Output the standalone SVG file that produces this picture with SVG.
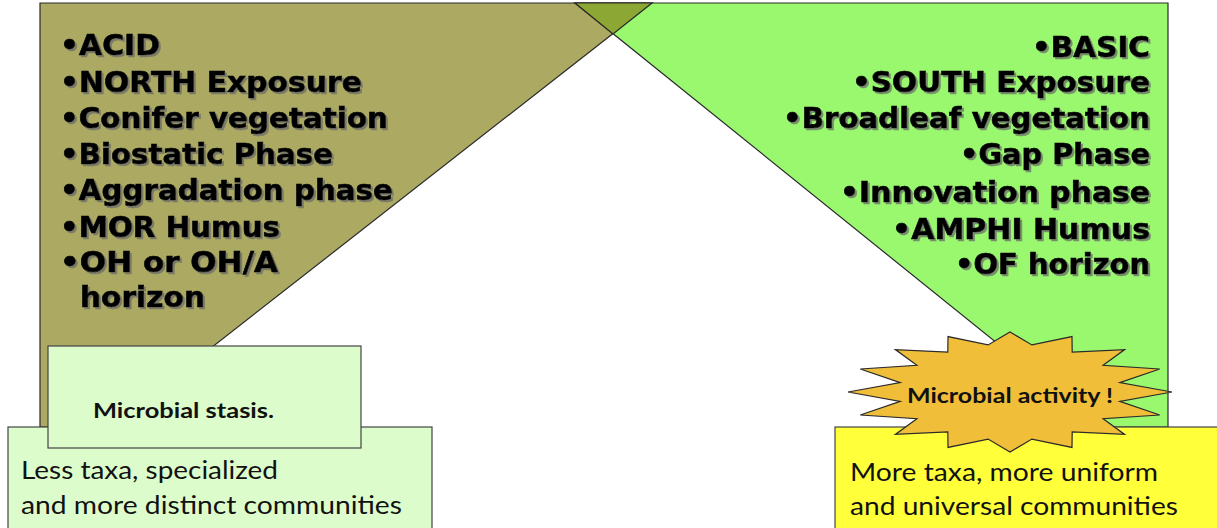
<svg xmlns="http://www.w3.org/2000/svg" width="1217" height="528" viewBox="0 0 1217 528">
<defs>
<filter id="sh" x="-5%" y="-20%" width="110%" height="150%">
<feDropShadow dx="2" dy="2" stdDeviation="0.6" flood-color="#6a6a6a" flood-opacity="0.75"/>
</filter>
<style>
.lst{font-family:"DejaVu Sans",Verdana,sans-serif;font-weight:bold;font-size:28px;fill:#000;stroke:#000;stroke-width:0.6;filter:url(#sh)}
.reg{font-family:Lato,"Liberation Sans",sans-serif;font-size:25px;fill:#111}
.bl{font-family:Lato,"Liberation Sans",sans-serif;font-weight:bold;font-size:21px;fill:#111}
.edge{stroke:#2a2a2a;stroke-width:1.2}
.box{stroke:#444;stroke-width:1.2}
</style>
</defs>
<rect width="1217" height="528" fill="#fff"/>

<g id="acid-panel">
<polygon class="edge" points="40,3 652,3 110,427 40,427" fill="#ABA962"/>
</g>
<g id="basic-panel">
<polygon class="edge" points="575,3 1168,3 1168,427 1101,427" fill="#99F86E"/>
</g>
<g id="overlap">
<polygon class="edge" points="575,3 652,3 613,34" fill="#8CA733"/>
</g>

<g id="acid-list">
<text class="lst" x="60" y="55" textLength="100" lengthAdjust="spacingAndGlyphs">•ACID</text>
<text class="lst" x="60" y="92" textLength="302" lengthAdjust="spacingAndGlyphs">•NORTH Exposure</text>
<text class="lst" x="60" y="128" textLength="328" lengthAdjust="spacingAndGlyphs">•Conifer vegetation</text>
<text class="lst" x="60" y="164" textLength="273" lengthAdjust="spacingAndGlyphs">•Biostatic Phase</text>
<text class="lst" x="60" y="200" textLength="333" lengthAdjust="spacingAndGlyphs">•Aggradation phase</text>
<text class="lst" x="60" y="237" textLength="220" lengthAdjust="spacingAndGlyphs">•MOR Humus</text>
<text class="lst" x="60" y="272" textLength="218" lengthAdjust="spacingAndGlyphs">•OH or OH/A</text>
<text class="lst" x="80" y="307" textLength="125" lengthAdjust="spacingAndGlyphs">horizon</text>
</g>

<g id="basic-list">
<text class="lst" x="1032" y="57" textLength="118" lengthAdjust="spacingAndGlyphs">•BASIC</text>
<text class="lst" x="852" y="92" textLength="298" lengthAdjust="spacingAndGlyphs">•SOUTH Exposure</text>
<text class="lst" x="783" y="128" textLength="367" lengthAdjust="spacingAndGlyphs">•Broadleaf vegetation</text>
<text class="lst" x="960" y="164" textLength="190" lengthAdjust="spacingAndGlyphs">•Gap Phase</text>
<text class="lst" x="840" y="202" textLength="310" lengthAdjust="spacingAndGlyphs">•Innovation phase</text>
<text class="lst" x="892" y="239" textLength="258" lengthAdjust="spacingAndGlyphs">•AMPHI Humus</text>
<text class="lst" x="955" y="274" textLength="195" lengthAdjust="spacingAndGlyphs">•OF horizon</text>
</g>

<g id="less-taxa">
<rect class="box" x="8" y="427" width="424" height="115" fill="#DDFCCB"/>
<text class="reg" x="21" y="479" textLength="257" lengthAdjust="spacingAndGlyphs">Less taxa, specialized</text>
<text class="reg" x="21" y="514" textLength="381" lengthAdjust="spacingAndGlyphs">and more distinct communities</text>
</g>

<g id="stasis">
<rect class="box" x="48" y="346" width="313" height="102" fill="#DDFCCB"/>
<text class="bl" x="93" y="418" textLength="181" lengthAdjust="spacingAndGlyphs">Microbial stasis.</text>
</g>

<g id="more-taxa">
<rect class="box" x="835" y="427" width="390" height="115" fill="#FFFF3A"/>
<text class="reg" x="850" y="481" textLength="308" lengthAdjust="spacingAndGlyphs">More taxa, more uniform</text>
<text class="reg" x="850" y="515" textLength="328" lengthAdjust="spacingAndGlyphs">and universal communities</text>
</g>

<g id="activity">
<polygon class="edge" fill="#F0BE38" points="1010,332 1031.9,344.9 1072,336.6 1072.2,352.1 1124.6,349.6 1103.1,365.3 1159.7,369 1119.8,382.6 1172,392 1119.8,401.4 1159.7,415 1103.1,418.7 1124.6,434.4 1072.2,431.9 1072,447.4 1031.9,439.1 1010,452 988.1,439.1 948,447.4 947.8,431.9 895.4,434.4 916.9,418.7 860.3,415 900.2,401.4 848,392 900.2,382.6 860.3,369 916.9,365.3 895.4,349.6 947.8,352.1 948,336.6 988.1,344.9"/>
<text class="bl" x="907" y="403" textLength="206" lengthAdjust="spacingAndGlyphs">Microbial activity !</text>
</g>
</svg>
